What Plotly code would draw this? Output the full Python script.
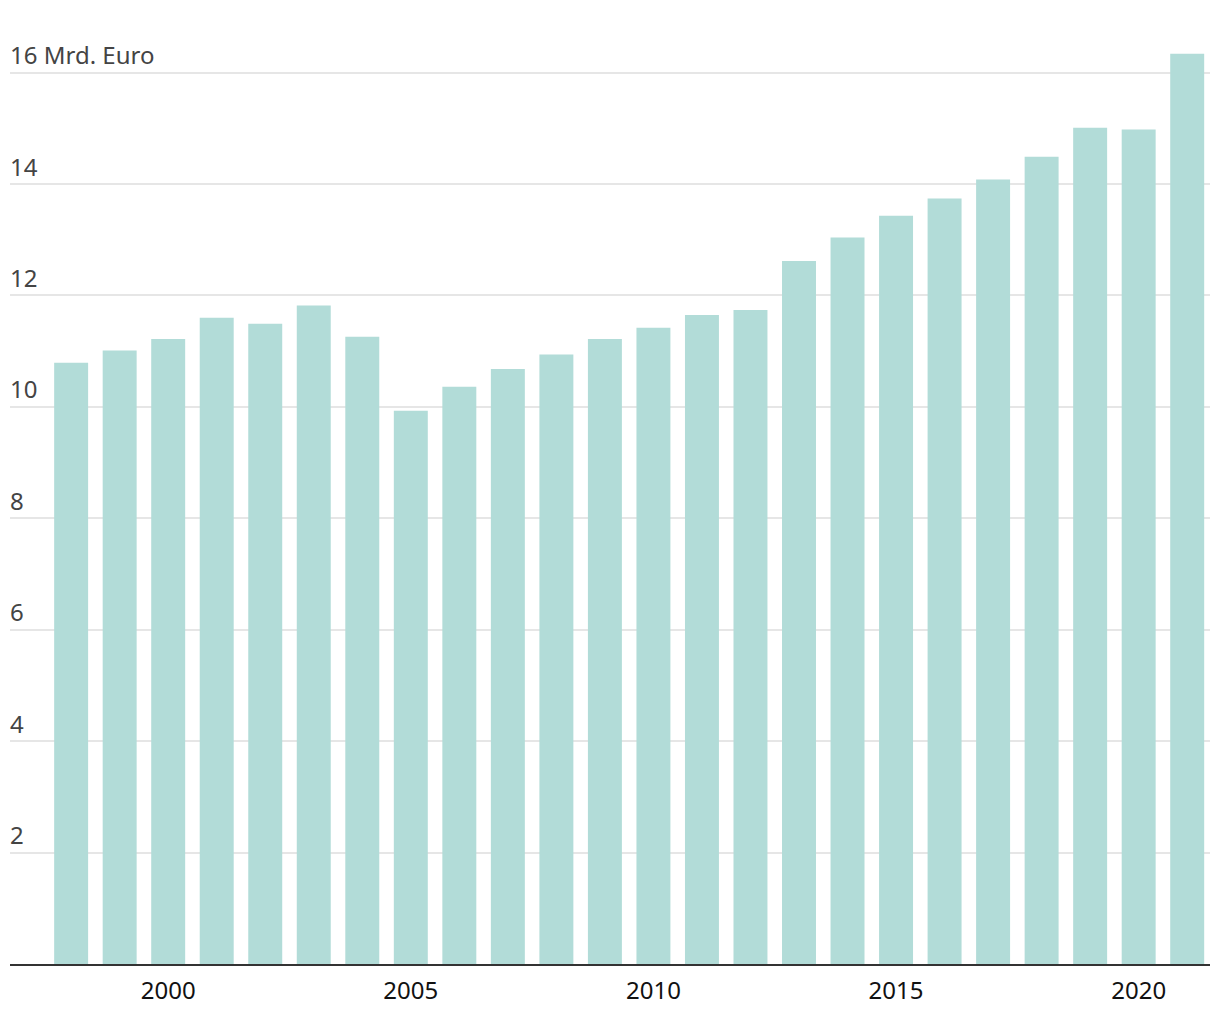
import plotly.graph_objects as go

years = list(range(1998, 2022))
values = [10.79, 11.01, 11.22, 11.60, 11.49, 11.82, 11.26, 9.93, 10.36, 10.68, 10.94, 11.22,
          11.42, 11.65, 11.74, 12.62, 13.04, 13.43, 13.74, 14.08, 14.49, 15.01, 14.98, 16.34]
y_tickvals = [2, 4, 6, 8, 10, 12, 14, 16]
y_ticktext = ["2", "4", "6", "8", "10", "12", "14", "16 Mrd. Euro"]
x_tickvals = [2000, 2005, 2010, 2015, 2020]

FONT = "Noto Sans, Open Sans, sans-serif"

fig = go.Figure(go.Bar(x=years, y=values, marker_color="#b2dcd8", marker_line_width=0, width=0.7))

fig.update_layout(
    width=1212, height=1012,
    margin=dict(l=2, r=10, t=20, b=56),
    plot_bgcolor="white", paper_bgcolor="white",
    font=dict(family=FONT, size=24, color="#111111"),
    showlegend=False,
)
fig.update_xaxes(
    range=[1996.74, 2021.47],
    tickvals=x_tickvals,
    showgrid=False,
    showline=True, linecolor="#333333", linewidth=2,
    ticks="", ticklen=0,
    ticklabelstandoff=4,
    zeroline=False,
)
fig.update_yaxes(
    range=[0, 16.8],
    tickvals=y_tickvals, ticktext=y_ticktext,
    ticklabelposition="inside top",
    ticklabelstandoff=-3,
    showgrid=True, gridcolor="#e6e6e6", gridwidth=2,
    zeroline=False, showline=False, ticks="",
)
fig.write_html("out.html")
